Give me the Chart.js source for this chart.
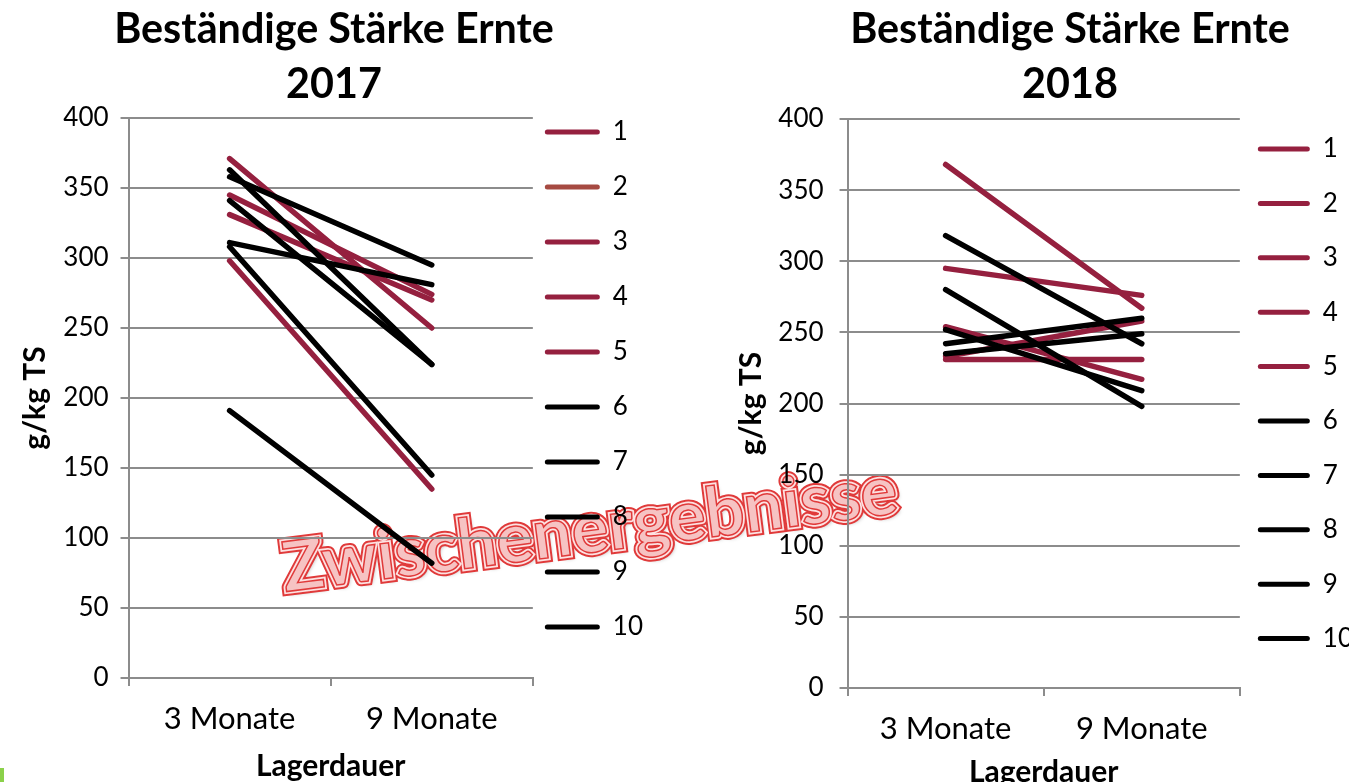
<!DOCTYPE html>
<html>
<head>
<meta charset="utf-8">
<script src="https://cdn.jsdelivr.net/npm/chart.js@4.4.1/dist/chart.umd.min.js"></script>
<style>
    html, body { margin: 0; padding: 0; background: #fff; overflow: hidden; }
    #wrap { position: relative; width: 1349px; height: 782px; overflow: hidden; }
    canvas { position: absolute; z-index: 1; }
    #c2017 { left: 0; top: -6px; }
    #c2018 { left: 716px; top: 0; }
    .wm { position: absolute; left: 589px; top: 526px; z-index: 0;
          transform: translate(-50%, -50%) rotate(-7.3deg);
          font: 700 69px Lato; white-space: nowrap; }
    .wm span { position: absolute; left: 0; top: 0; }
    .wm .l1 { position: relative; color: transparent; -webkit-text-stroke: 9px #e03a3a;
              text-shadow: 3px 3px 4px rgba(0,0,0,0.35); }
    .wm .l2 { color: transparent; -webkit-text-stroke: 5px #fde2e2; }
    .wm .l3 { color: #f6c3c3; -webkit-text-stroke: 1.5px #e03a3a; }
    #gruen { position: absolute; left: 0; top: 768px; width: 4px; height: 14px; background: #8bd14a; }
</style>
</head>
<body>
<div id="wrap">
    <div class="wm"><span class="l1">Zwischenergebnisse</span><span class="l2">Zwischenergebnisse</span><span class="l3">Zwischenergebnisse</span></div>
    <canvas id="c2017" width="653" height="788"></canvas>
    <canvas id="c2018" width="647" height="798"></canvas>
    <div id="gruen"></div>
</div>
<script>
    // Daten
    var kategorien = ["3 Monate", "9 Monate"];
    var sorten = ["1", "2", "3", "4", "5", "6", "7", "8", "9", "10"];
    var yTicks = [0, 50, 100, 150, 200, 250, 300, 350, 400];

    var monate3_2017 = [371, 358, 345, 331, 298, 363, 341, 311, 308, 191];
    var monate9_2017 = [250, 295, 274, 270, 135, 224, 224, 281, 145, 82];
    var monate3_2018 = [368, 295, 254, 233, 231, 318, 280, 252, 242, 235];
    var monate9_2018 = [267, 276, 217, 258, 231, 242, 198, 209, 260, 249];

    var ROT = "#95203f", BRAUN = "#a64a42", SCHWARZ = "#000000", GRAU = "#8c8c8c";
    var linien2017 = [ROT, SCHWARZ, ROT, ROT, ROT, SCHWARZ, SCHWARZ, SCHWARZ, SCHWARZ, SCHWARZ];
    var legende2017 = [ROT, BRAUN, ROT, ROT, ROT, SCHWARZ, SCHWARZ, SCHWARZ, SCHWARZ, SCHWARZ];
    var linien2018 = [ROT, ROT, ROT, ROT, ROT, SCHWARZ, SCHWARZ, SCHWARZ, SCHWARZ, SCHWARZ];
    var legende2018 = linien2018;

    Chart.defaults.font.family = "Lato";
    Chart.defaults.color = "#000";

    // verschiebt den Titel waagrecht
    var titelVersatz = {
        id: "titelVersatz",
        afterLayout: function (chart, args, opts) {
            var t = chart.titleBlock;
            if (t && opts.dx) { t.left += opts.dx; t.right += opts.dx; }
        }
    };

    function diagramm(id, jahr, start, ende, linien, legende, lay) {
        var datasets = sorten.map(function (s, i) {
            return {
                label: s,
                data: [start[i], ende[i]],
                borderColor: linien[i],
                backgroundColor: linien[i],
                borderWidth: 5.5,
                borderCapStyle: "round",
                pointRadius: 0,
                order: linien[i] === SCHWARZ ? 0 : 1
            };
        });

        return new Chart(document.getElementById(id), {
            type: "line",
            data: { labels: kategorien, datasets: datasets },
            options: {
                responsive: false,
                animation: false,
                events: [],
                scales: {
                    x: {
                        offset: true,
                        grid: { offset: true, drawOnChartArea: false, color: GRAU, lineWidth: 2, tickLength: 8 },
                        border: { color: GRAU, width: 2 },
                        ticks: { font: { size: 31 }, padding: 14.4, maxRotation: 0 },
                        title: { display: true, text: "Lagerdauer", font: { size: 30, weight: "bold" },
                                 padding: { top: lay.xTitleTop, bottom: lay.xTitleBottom } }
                    },
                    y: {
                        min: yTicks[0],
                        max: yTicks[yTicks.length - 1],
                        ticks: { stepSize: yTicks[1] - yTicks[0], font: { size: 26 }, padding: lay.yTickPad },
                        grid: { color: GRAU, lineWidth: 2, tickLength: 8 },
                        border: { color: GRAU, width: 2 },
                        title: { display: true, text: "g/kg TS", font: { size: 30, weight: "bold" },
                                 padding: { top: 17, bottom: lay.yTitleBottom } }
                    }
                },
                plugins: {
                    title: {
                        display: true,
                        text: ["Beständige Stärke Ernte", jahr],
                        font: { size: 41.3, weight: "bold", lineHeight: "55px" },
                        padding: { top: lay.titleTop, bottom: lay.titleBottom }
                    },
                    legend: {
                        position: "right",
                        labels: {
                            padding: lay.legPad,
                            boxWidth: lay.legBox,
                            boxHeight: 5,
                            color: "#000",
                            font: { size: 26, lineHeight: lay.legLine },
                            generateLabels: function (chart) {
                                return chart.data.datasets.map(function (ds, i) {
                                    return {
                                        text: [ds.label],
                                        fillStyle: legende[i],
                                        strokeStyle: legende[i],
                                        lineWidth: 0,
                                        borderRadius: 2.5,
                                        hidden: false,
                                        datasetIndex: i
                                    };
                                });
                            }
                        }
                    },
                    tooltip: { enabled: false },
                    titelVersatz: { dx: lay.titleDx }
                }
            },
            plugins: [titelVersatz]
        });
    }

    diagramm("c2017", "2017", monate3_2017, monate9_2017, linien2017, legende2017,
        { titleTop: 8.5, titleBottom: 5.5, yTickPad: 12, yTitleBottom: -1.7, xTitleTop: -4, xTitleBottom: -2,
          legPad: 12, legBox: 55, legLine: "43px", titleDx: 7.5 });
    diagramm("c2018", "2018", monate3_2018, monate9_2018, linien2018, legende2018,
        { titleTop: 2.5, titleBottom: 6.5, yTickPad: 16, yTitleBottom: -6.7, xTitleTop: -8, xTitleBottom: 8,
          legPad: 18, legBox: 52, legLine: "36.4px", titleDx: 30.5 });
</script>
</body>
</html>
